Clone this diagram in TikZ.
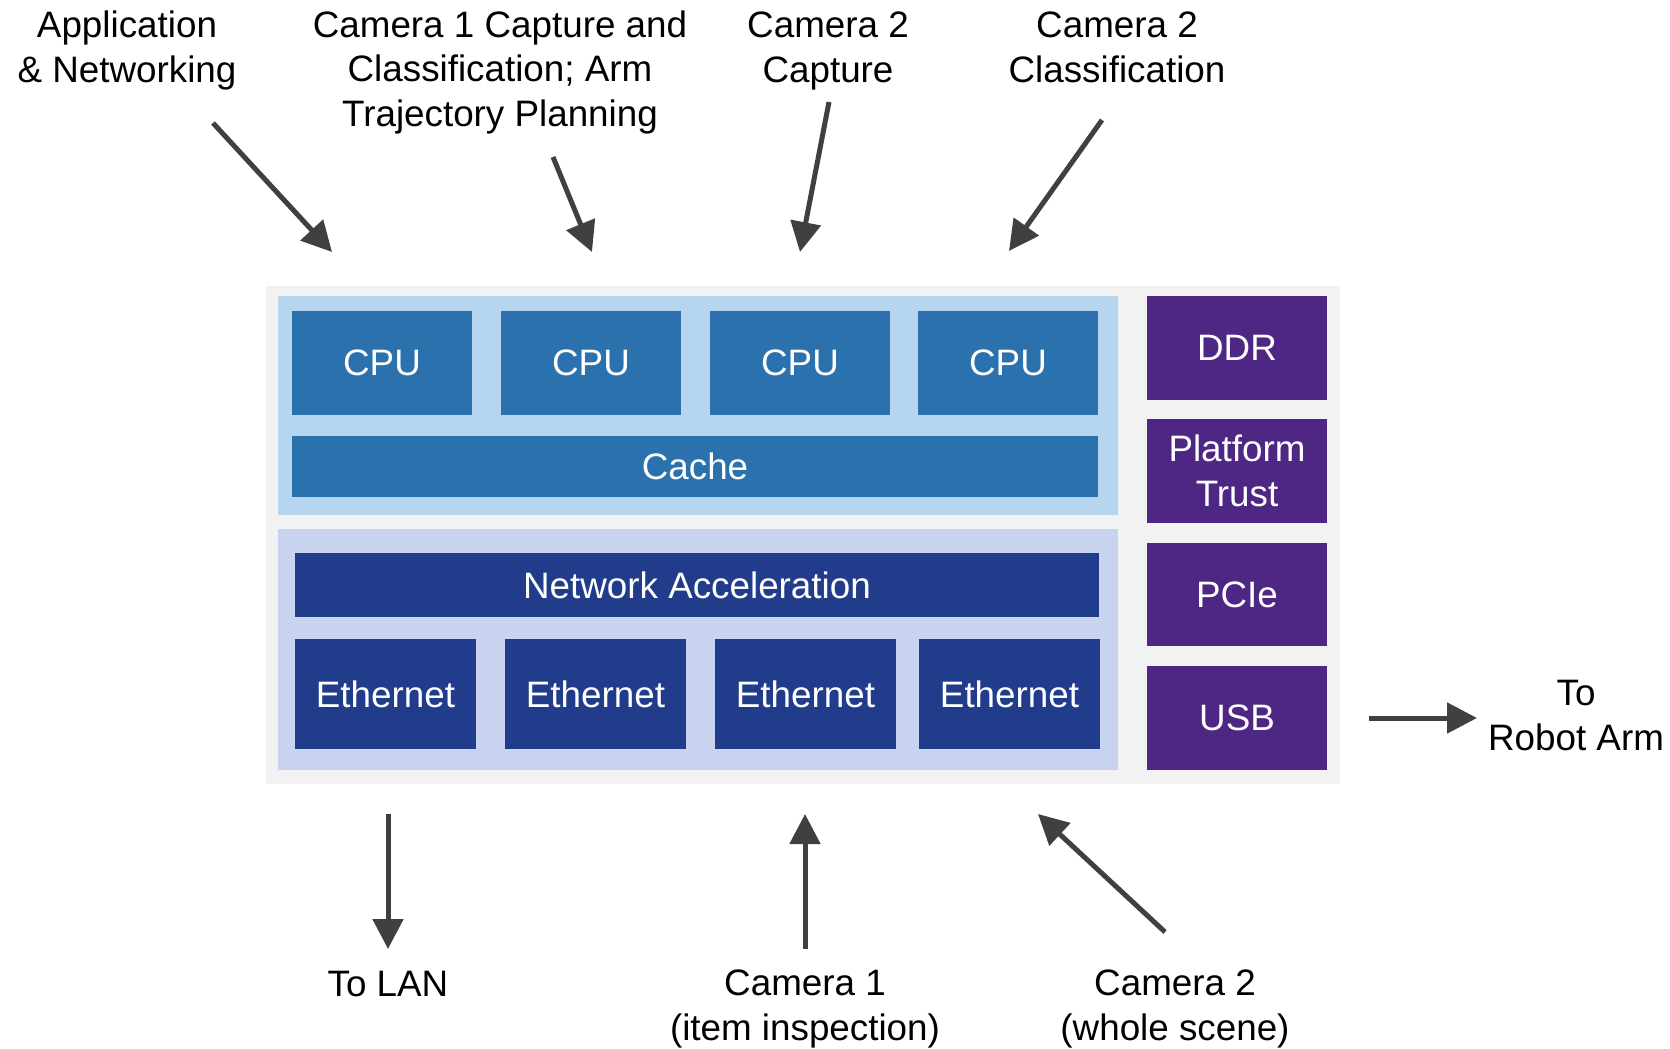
\documentclass[tikz,border=0pt]{standalone}
\usepackage{fontspec}
\setmainfont{Liberation Sans}
\usetikzlibrary{arrows.meta}

\definecolor{socgray}{HTML}{F2F2F2}
\definecolor{cpupanel}{HTML}{B5D6EE}
\definecolor{cpublue}{HTML}{2A71AD}
\definecolor{netpanel}{HTML}{C8D3F0}
\definecolor{netblue}{HTML}{213C8B}
\definecolor{ioviolet}{HTML}{4E2683}
\definecolor{arrowgray}{HTML}{404040}

% block from (x1,y1) to (x2,y2), in pixel-like units
\newcommand\boxat[7]{%
  \node[#6, minimum width={(#4-#2)*0.5pt}, minimum height={(#5-#3)*0.5pt}]
    (#1) at ({(#2+#4)/2},{(#3+#5)/2}) {#7};}

\begin{document}
\begin{tikzpicture}[x=0.5pt, y=-0.5pt,
  txt/.style={font=\fontsize{18.4}{22.2}\selectfont},
  lbl/.style={txt, align=center, inner sep=0pt, text=black, anchor=base},
  panel/.style={inner sep=0pt, draw=none},
  unit/.style={txt, align=center, inner sep=0pt, text=white, draw=none},
  arr/.style={draw=arrowgray, line width=2.5pt, -{Triangle[length=15pt, width=15pt]}},
]
\fill[white] (0,0) rectangle (1670,1049);
\useasboundingbox (0,0) rectangle (1670,1049);

% SoC outline and the two clusters
\boxat{soc}{266}{286}{1340}{784}{panel, fill=socgray}{}
\boxat{cpucl}{278}{296}{1118}{515}{panel, fill=cpupanel}{}
\boxat{netcl}{278}{529}{1118}{770}{panel, fill=netpanel}{}

% compute cluster
\boxat{cpu1}{292}{311}{472}{415}{unit, fill=cpublue}{CPU}
\boxat{cpu2}{501}{311}{681}{415}{unit, fill=cpublue}{CPU}
\boxat{cpu3}{710}{311}{890}{415}{unit, fill=cpublue}{CPU}
\boxat{cpu4}{918}{311}{1098}{415}{unit, fill=cpublue}{CPU}
\boxat{cache}{292}{436}{1098}{497}{unit, fill=cpublue}{Cache}

% network cluster
\boxat{netacc}{295}{553}{1099}{617}{unit, fill=netblue}{Network Acceleration}
\boxat{eth1}{295}{639}{476}{749}{unit, fill=netblue}{Ethernet}
\boxat{eth2}{505}{639}{686}{749}{unit, fill=netblue}{Ethernet}
\boxat{eth3}{715}{639}{896}{749}{unit, fill=netblue}{Ethernet}
\boxat{eth4}{919}{639}{1100}{749}{unit, fill=netblue}{Ethernet}

% peripherals
\boxat{ddr}{1147}{296}{1327}{400}{unit, fill=ioviolet}{DDR}
\boxat{trust}{1147}{419}{1327}{523}{unit, fill=ioviolet}{Platform\\Trust}
\boxat{pcie}{1147}{543}{1327}{646}{unit, fill=ioviolet}{PCIe}
\boxat{usb}{1147}{666}{1327}{770}{unit, fill=ioviolet}{USB}

% workload labels (anchored at the baseline of their last line)
\node[lbl] (appnet) at (127,82) {Application\\\& Networking};
\node[lbl] (cam1task) at (500,126) {Camera 1 Capture and\\Classification; Arm\\Trajectory Planning};
\node[lbl] (cam2cap) at (828,82) {Camera 2\\Capture};
\node[lbl] (cam2cls) at (1117,82) {Camera 2\\Classification};

% external labels
\node[lbl] (robot) at (1576,750) {To\\Robot Arm};
\node[lbl] (lan) at (388,996) {To LAN};
\node[lbl] (cam1in) at (805,1040) {Camera 1\\(item inspection)};
\node[lbl] (cam2in) at (1175,1040) {Camera 2\\(whole scene)};

% arrow end points
\coordinate (a1s) at (213,123);  \coordinate (a1e) at (332,252);
\coordinate (a2s) at (553,157);  \coordinate (a2e) at (592,252);
\coordinate (a3s) at (829,102);  \coordinate (a3e) at (800,252);
\coordinate (a4s) at (1102,120); \coordinate (a4e) at (1009,251);
\coordinate (lans) at (388,814); \coordinate (lane) at (388,949);
\coordinate (c1s) at (805,949);  \coordinate (c1e) at (805,814);
\coordinate (c2s) at (1165,932); \coordinate (c2e) at (1038,814);
\coordinate (usbs) at (1369,718); \coordinate (usbe) at (1477,718);

\draw[arr] (a1s) -- (a1e);
\draw[arr] (a2s) -- (a2e);
\draw[arr] (a3s) -- (a3e);
\draw[arr] (a4s) -- (a4e);
\draw[arr] (lans) -- (lane);
\draw[arr] (c1s) -- (c1e);
\draw[arr] (c2s) -- (c2e);
\draw[arr] (usbs) -- (usbe);
\end{tikzpicture}
\end{document}
